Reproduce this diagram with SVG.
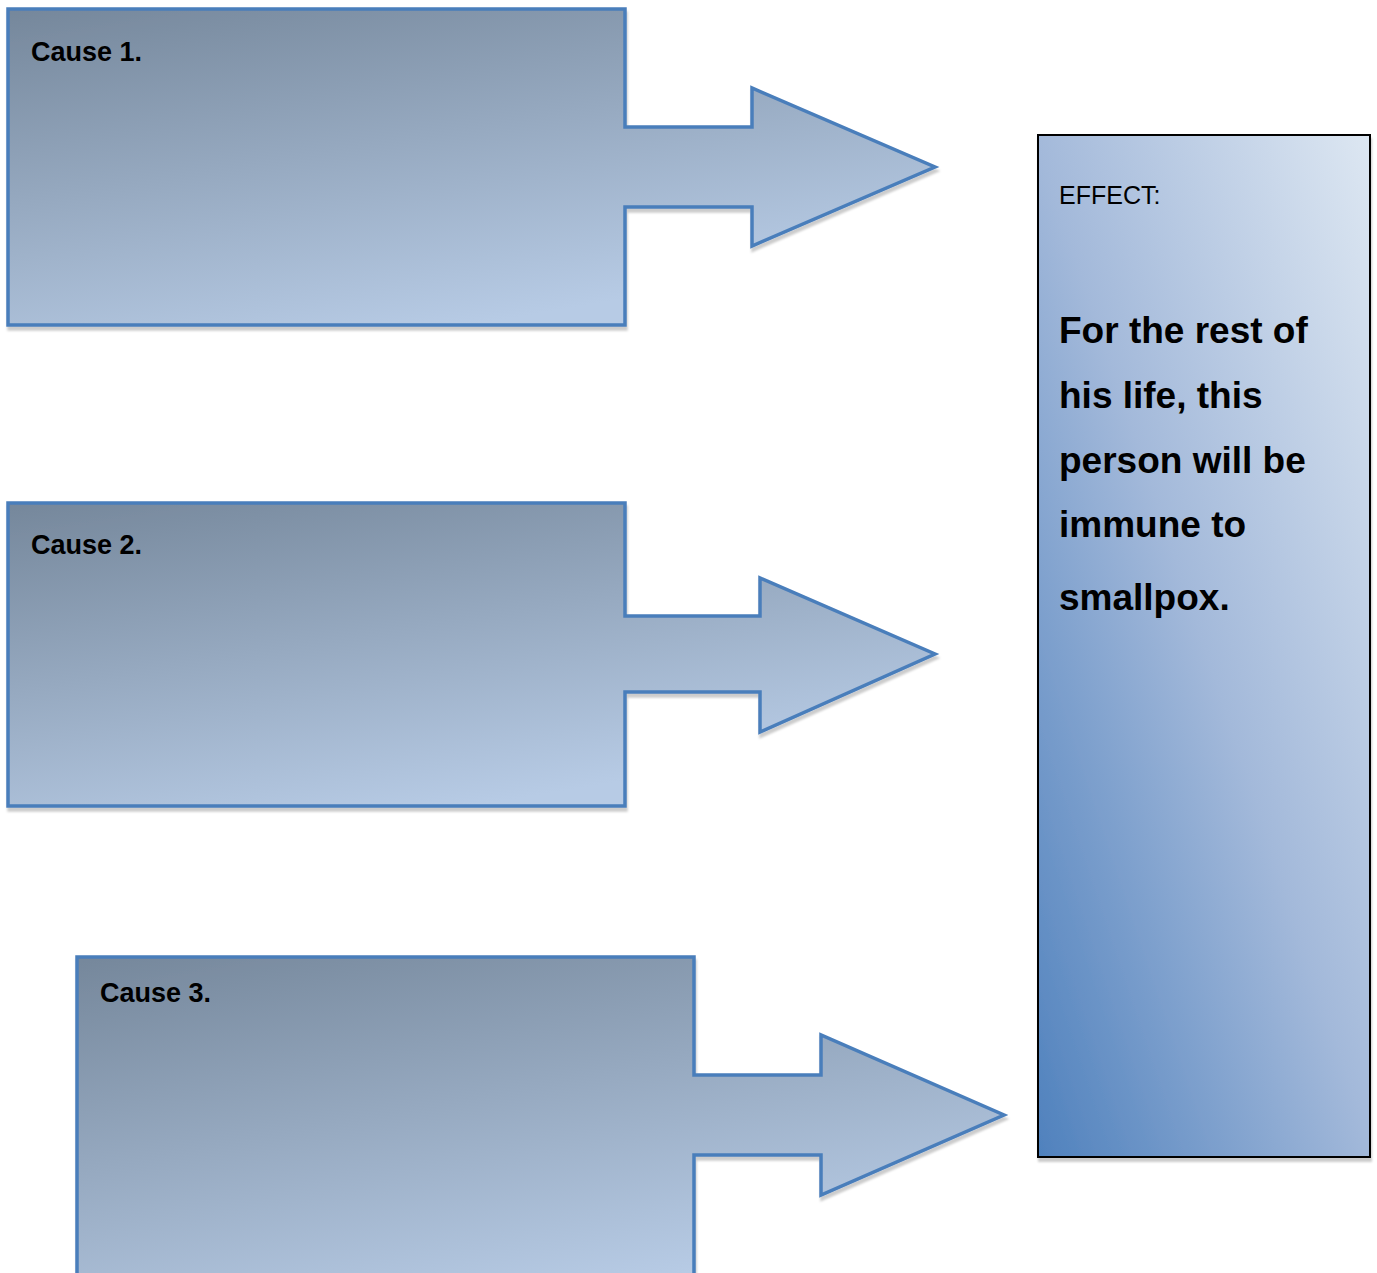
<svg xmlns="http://www.w3.org/2000/svg" width="1377" height="1273" viewBox="0 0 1377 1273">
  <defs>
    <linearGradient id="causeFill" x1="0" y1="0" x2="0.5" y2="1">
      <stop offset="0" stop-color="#75879b"/>
      <stop offset="1" stop-color="#b7cbe5"/>
    </linearGradient>
    <linearGradient id="effectFill" gradientUnits="userSpaceOnUse" x1="1038" y1="1157" x2="1644" y2="955">
      <stop offset="0" stop-color="#4f81bd"/>
      <stop offset="0.5" stop-color="#a3b9da"/>
      <stop offset="1" stop-color="#dde7f2"/>
    </linearGradient>
    <filter id="shadow" x="-5%" y="-5%" width="110%" height="115%">
      <feGaussianBlur in="SourceAlpha" stdDeviation="1"/>
      <feOffset dx="1" dy="4" result="off"/>
      <feFlood flood-color="#000" flood-opacity="0.2"/>
      <feComposite in2="off" operator="in"/>
      <feMerge>
        <feMergeNode/>
        <feMergeNode in="SourceGraphic"/>
      </feMerge>
    </filter>
  </defs>
  <style>
    .cause { fill: url(#causeFill); stroke: #4a7ebb; stroke-width: 3.5; filter: url(#shadow); }
    .label { font-family: "Liberation Sans", Arial, sans-serif; font-weight: bold; font-size: 27px; fill: #000; }
    .effect { fill: url(#effectFill); stroke: #000; stroke-width: 2; filter: url(#shadow); }
    .etitle { font-family: "Liberation Sans", Arial, sans-serif; font-size: 25px; fill: #000; }
    .ebody { font-family: "Liberation Sans", Arial, sans-serif; font-weight: bold; font-size: 37px; fill: #000; }
  </style>
  <rect width="1377" height="1273" fill="#ffffff"/>
  <g id="cause1">
    <path class="cause" d="M8,9 H625 V127 H752 V88 L935,167 L752,246 V207 H625 V325 H8 Z"/>
    <text class="label" x="31" y="61">Cause 1.</text>
  </g>
  <g id="cause2">
    <path class="cause" d="M8,503 H625 V616 H760 V578 L935,654 L760,732 V692 H625 V806 H8 Z"/>
    <text class="label" x="31" y="554">Cause 2.</text>
  </g>
  <g id="cause3">
    <path class="cause" d="M77,957 H694 V1075 H821 V1035 L1004,1115 L821,1195 V1155 H694 V1300 H77 Z"/>
    <text class="label" x="100" y="1002">Cause 3.</text>
  </g>
  <g id="effect">
    <rect class="effect" x="1038" y="135" width="332" height="1022"/>
    <text class="etitle" x="1059" y="204">EFFECT:</text>
    <text class="ebody" x="1059" y="343">For the rest of</text>
    <text class="ebody" x="1059" y="408">his life, this</text>
    <text class="ebody" x="1059" y="473">person will be</text>
    <text class="ebody" x="1059" y="537">immune to</text>
    <text class="ebody" x="1059" y="610">smallpox.</text>
  </g>
  <g id="connectors"/>
</svg>
